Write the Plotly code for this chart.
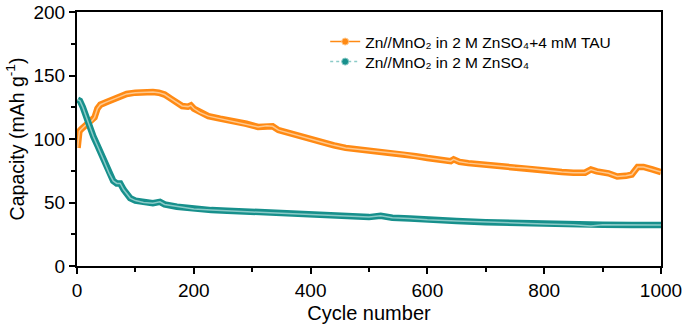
"""Capacidad vs número de ciclos para Zn//MnO2 con y sin TAU."""

import plotly.graph_objects as go

# Datos
ciclos_tau = [1, 2, 4, 8, 17, 25, 30, 35, 40, 50, 60, 70, 85, 100, 115, 130, 140, 150,
              160, 170, 180, 190, 195, 200, 210, 225, 245, 270, 290, 310, 325, 335, 345,
              360, 380, 400, 420, 440, 460, 480, 500, 520, 540, 560, 580, 600, 620, 640,
              645, 655, 670, 690, 710, 730, 750, 770, 790, 810, 830, 850, 870, 880, 890,
              910, 925, 940, 950, 960, 970, 985, 1000]
cap_tau = [93, 100, 106, 108, 112, 114, 117, 124, 127, 129, 131, 133, 135.5, 136.5, 137,
           137, 136.5, 135, 132, 129, 126, 125.5, 126.5, 124, 121, 118, 116, 114, 112,
           109.5, 110.5, 110, 107, 105, 102.5, 100, 97.5, 95, 93, 92, 91, 90, 89.5, 88,
           86.5, 85, 83.5, 82.5, 84, 82, 81, 80, 79, 78.5, 77.5, 77, 76, 74.5, 74, 73.5,
           73.5, 76, 74.5, 73, 70.5, 71, 72, 78, 78, 76, 74]

ciclos_base = [1, 5, 10, 15, 20, 28, 35, 45, 55, 62, 68, 74, 80, 91, 100, 114, 130, 142,
               150, 171, 200, 230, 257, 300, 350, 400, 450, 500, 520, 540, 570, 600, 650,
               700, 750, 800, 850, 880, 900, 950, 1000]
cap_base = [131, 130, 125, 118, 112, 102, 95, 84, 73, 67, 65, 65, 60, 53.5, 51.5, 50,
            49.5, 50.5, 48.5, 46.7, 44.8, 44, 43.6, 42.5, 41.5, 40.5, 39.5, 38.5, 39.5,
            38, 37.5, 36.5, 35.5, 34.5, 34, 33, 32.5, 31.5, 32.5, 32.3, 32.3]

nombre_tau = 'Zn//MnO₂ in 2 M ZnSO₄+4 mM TAU'
nombre_base = 'Zn//MnO₂ in 2 M ZnSO₄'

NARANJA = '#FF8A14'
NARANJA_CLARO = '#FFC98F'
VERDE = '#17908C'
VERDE_CLARO = '#8CCBC8'

fig = go.Figure()

# Series: banda gruesa con centro claro (imita los marcadores huecos densos)
for x, y, color, claro in [(ciclos_tau, cap_tau, NARANJA, NARANJA_CLARO),
                           (ciclos_base, cap_base, VERDE, VERDE_CLARO)]:
    fig.add_trace(go.Scatter(x=x, y=y, mode='lines', showlegend=False,
                             line=dict(color=color, width=6.5)))
    fig.add_trace(go.Scatter(x=x, y=y, mode='lines', showlegend=False,
                             line=dict(color=claro, width=1.5)))

# Entradas de la leyenda (una leyenda por serie para controlar el espaciado)
fig.add_trace(go.Scatter(x=[None], y=[None], mode='lines+markers', name=nombre_tau,
                         legend='legend',
                         line=dict(color=NARANJA, width=1.5),
                         marker=dict(size=7, color=NARANJA, line=dict(color=NARANJA_CLARO, width=1))))
fig.add_trace(go.Scatter(x=[None], y=[None], mode='lines+markers', name=nombre_base,
                         legend='legend2',
                         line=dict(color=VERDE_CLARO, width=1.5, dash='dot'),
                         marker=dict(size=7, color=VERDE, line=dict(color=VERDE_CLARO, width=1))))

estilo_leyenda = dict(x=0.425, xanchor='left', yanchor='middle',
                      bgcolor='rgba(0,0,0,0)', font=dict(size=15.5))

fig.update_layout(
    width=687, height=332,
    margin=dict(l=77, r=26, t=12, b=66),
    paper_bgcolor='white', plot_bgcolor='white',
    font=dict(family='Liberation Sans, Arial, sans-serif', color='black', size=19),
    legend=dict(y=0.882, **estilo_leyenda),
    legend2=dict(y=0.803, **estilo_leyenda),
)

fig.update_xaxes(
    range=[0, 1000], dtick=200, tick0=0, automargin=False,
    showline=True, linecolor='black', linewidth=2, mirror=True,
    ticks='outside', ticklen=6, tickwidth=2, tickcolor='black',
    minor=dict(ticks='outside', ticklen=4, tickwidth=1.5, dtick=100, tickcolor='black'),
    showgrid=False, zeroline=False,
    title=dict(text='Cycle number', font=dict(size=20), standoff=6),
)
fig.update_yaxes(
    range=[0, 200], dtick=50, tick0=0, automargin=False,
    showline=True, linecolor='black', linewidth=2, mirror=True,
    ticks='outside', ticklen=6, tickwidth=2, tickcolor='black',
    minor=dict(ticks='outside', ticklen=4, tickwidth=1.5, dtick=25, tickcolor='black'),
    showgrid=False, zeroline=False,
    title=dict(text='Capacity (mAh g<sup>-1</sup>)', font=dict(size=19.5), standoff=4),
)

# Quitar el margen por defecto del body para que la figura ocupe la ventana
fig.write_html("out.html", config={'displayModeBar': False},
               post_script="document.body.style.margin='0';")
